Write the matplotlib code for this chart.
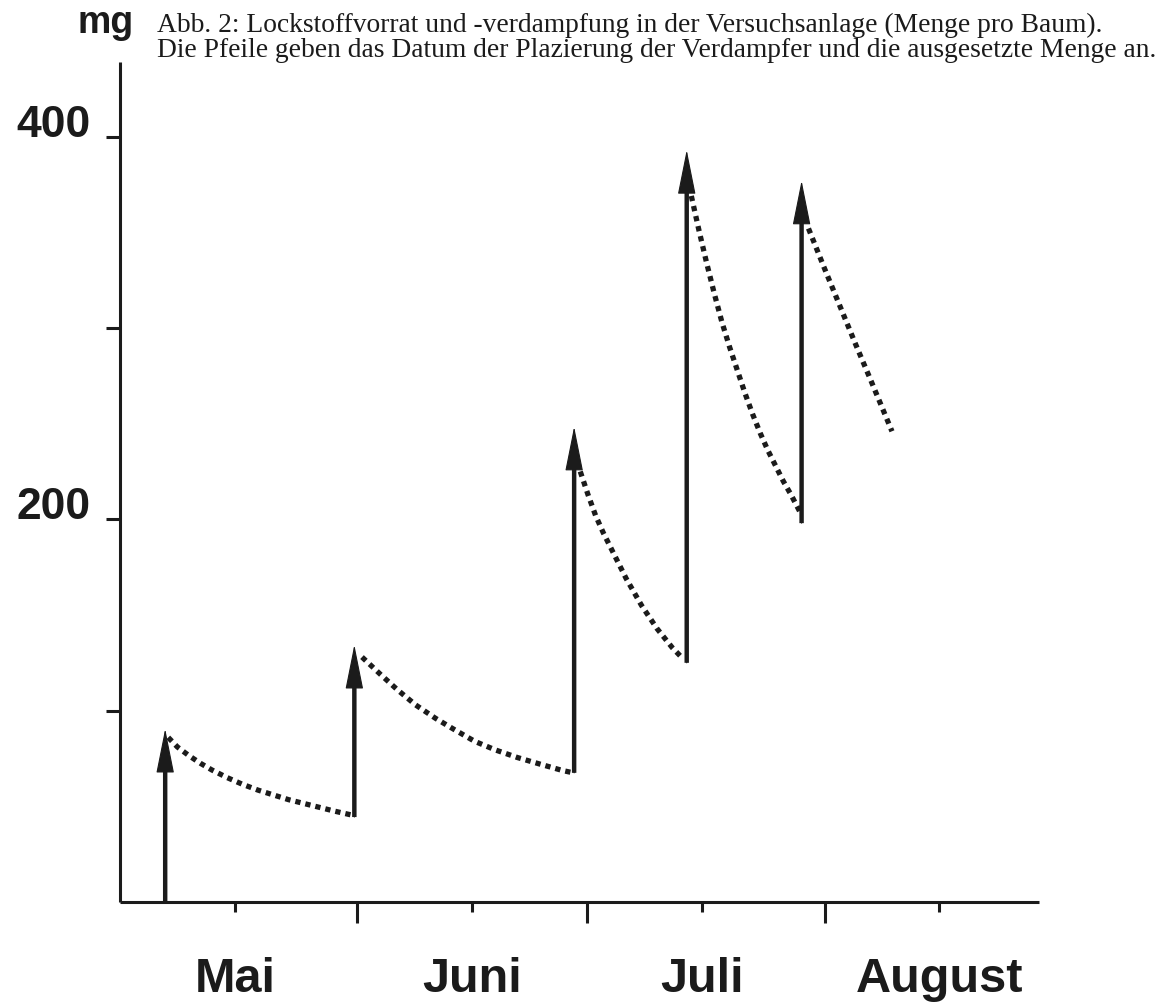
import matplotlib
matplotlib.use("Agg")
import matplotlib.pyplot as plt

# ---------------- data (days after 1 May, mg per tree) ----------------
arrow_days = [5.9, 30.6, 59.3, 74.0, 89.0]
arrow_bottom = [0.0, 44.4, 67.5, 125.0, 198.0]
arrow_top = [90.5, 134.4, 248.4, 393.0, 377.0]

curve1_days = [6.3, 7.5, 9.0, 10.5, 12.0, 14.0, 16.0, 18.0, 20.0, 22.0, 24.0, 26.0, 28.0, 30.2]
curve1_mg = [86.0, 81.0, 76.5, 72.5, 69.0, 65.0, 61.5, 58.5, 56.0, 53.5, 51.5, 49.5, 47.5, 45.5]

curve2_days = [31.6, 34.0, 36.2, 38.6, 41.2, 43.7, 46.3, 49.0, 51.9, 54.9, 57.8, 59.2]
curve2_mg = [128.0, 119.0, 111.0, 103.0, 96.0, 90.0, 84.0, 79.5, 75.5, 72.0, 68.7, 67.5]

curve3_days = [60.1, 61.1, 62.1, 63.1, 64.1, 65.1, 66.1, 67.1, 68.1, 69.1, 70.1, 71.1, 72.1, 73.3]
curve3_mg = [225.0, 213.0, 202.0, 193.0, 185.0, 177.0, 169.0, 162.0, 155.0, 149.0, 143.0, 138.0, 133.0, 128.0]

curve4_days = [74.6, 75.6, 76.6, 77.6, 78.6, 79.6, 80.6, 81.6, 82.6, 83.6, 84.6, 85.6, 86.6, 87.6, 88.9]
curve4_mg = [369.0, 351.0, 334.0, 318.0, 303.0, 290.0, 278.0, 266.0, 255.0, 245.0, 236.0, 228.0, 220.0, 213.0, 203.0]

curve5_days = [89.9, 92.0, 94.0, 96.0, 98.0, 100.8]
curve5_mg = [352.0, 331.0, 311.5, 292.0, 273.0, 246.0]

month_labels = ["Mai", "Juni", "Juli", "August"]
month_mid_days = [15, 46, 76, 107]
month_start_days = [31, 61, 92]
y_ticks = [100, 200, 300, 400]
y_tick_labels = ["", "200", "", "400"]

title_lines = [
    "Abb. 2: Lockstoffvorrat und -verdampfung in der Versuchsanlage (Menge pro Baum).",
    "Die Pfeile geben das Datum der Plazierung der Verdampfer und die ausgesetzte Menge an.",
]
unit_label = "mg"

# ---------------- figure ----------------
W, H = 1172, 1005
fig = plt.figure(figsize=(W / 100, H / 100), dpi=100)
ink = "#1b1b1b"

x_axis_px, y_axis_px = 120, 902
x_end_px, y_top_px = 1039, 62
ax = fig.add_axes([x_axis_px / W, (H - y_axis_px) / H,
                   (x_end_px - x_axis_px) / W, (y_axis_px - y_top_px) / H])
ax.set_xlim(0, 120)
ax.set_ylim(0, 439)
for s in ["top", "right"]:
    ax.spines[s].set_visible(False)
for s in ["left", "bottom"]:
    ax.spines[s].set_linewidth(2.2)
    ax.spines[s].set_color(ink)
    ax.spines[s].set_capstyle("butt")

ax.set_yticks(y_ticks)
ax.set_yticklabels([])
ax.tick_params(axis="y", direction="out", length=10, width=2.2, color=ink)
ax.set_xticks(month_start_days)
ax.set_xticklabels([])
ax.set_xticks(month_mid_days, minor=True)
ax.tick_params(axis="x", which="major", direction="out", length=15, width=2.2, color=ink)
ax.tick_params(axis="x", which="minor", direction="out", length=7, width=2.2, color=ink)

for v, lab in zip(y_ticks, y_tick_labels):
    if lab:
        ax.annotate(lab, xy=(0, v), xycoords=("axes fraction", "data"),
                    xytext=(-21, 0), textcoords="offset points",
                    ha="right", va="baseline", fontsize=32,
                    family="Liberation Sans", fontweight="bold", color=ink)

for d, lab in zip(month_mid_days, month_labels):
    ax.annotate(lab, xy=(d, 0), xycoords=("data", "axes fraction"),
                xytext=(0, -65), textcoords="offset points",
                ha="center", va="baseline", fontsize=35,
                family="Liberation Sans", fontweight="bold", color=ink)

for xs, ys in [(curve1_days, curve1_mg), (curve2_days, curve2_mg),
               (curve3_days, curve3_mg), (curve4_days, curve4_mg),
               (curve5_days, curve5_mg)]:
    ax.plot(xs, ys, color=ink, lw=3.8, linestyle=(0, (1.0, 0.95)),
            dash_capstyle="butt", solid_capstyle="butt", solid_joinstyle="round")

for d, b, t in zip(arrow_days, arrow_bottom, arrow_top):
    # shaft (stops inside the head)
    ax.annotate("", xy=(d, t), xytext=(d, b),
                arrowprops=dict(arrowstyle="-", lw=3.2, color=ink,
                                shrinkA=0, shrinkB=18, capstyle="butt"))
    # head with a thin outline so its tip lands on the value
    ax.annotate("", xy=(d, t), xytext=(d, b),
                arrowprops=dict(arrowstyle="-|>,head_length=1.45,head_width=0.29",
                                mutation_scale=20, lw=0.8, color=ink,
                                shrinkA=0, shrinkB=0))

fig.text(78 / W, 1 - 33 / H, unit_label, ha="left", va="baseline",
         fontsize=27, family="Liberation Sans", fontweight="bold", color=ink)

# caption: one two-line text, width fitted, baselines at 32 px and 57 px
renderer = fig.canvas.get_renderer()
x0 = 157
cap = fig.text(x0 / W, 0.99, "\n".join(title_lines), ha="left", va="top",
               fontsize=20, family="Liberation Serif", color=ink, linespacing=1.0)
probe = fig.text(0, 0, title_lines[1], fontsize=20, family="Liberation Serif")
wpx = probe.get_window_extent(renderer).width
probe.remove()
fs = 20 * (1158 - x0) / wpx
cap.set_fontsize(fs)


def layout(ls):
    cap.set_linespacing(ls)
    _, info, _ = cap._get_layout(renderer)
    return info[0][-1] - info[1][-1], -info[0][-1]


g1, asc = layout(1.0)
g2, _ = layout(0.5)
ls = 0.5 + (25 - g2) * 0.5 / (g1 - g2)
cap.set_linespacing(ls)
cap.set_y(1 - (32 - asc) / H)

fig.savefig("out.png", dpi=100)
